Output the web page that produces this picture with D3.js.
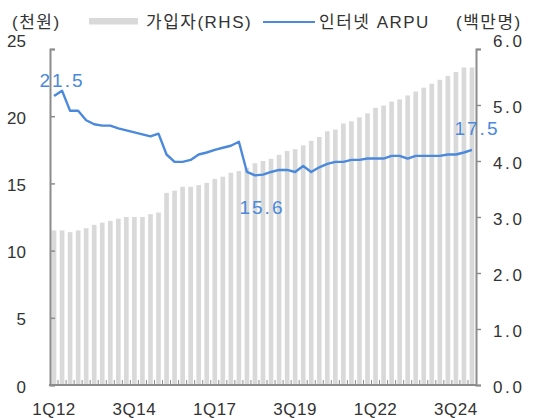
<!DOCTYPE html>
<html><head><meta charset="utf-8">
<script src="https://cdn.jsdelivr.net/npm/d3@7"></script>
<style>
html,body{margin:0;padding:0;background:#fff;}
text{font-family:"Liberation Sans","Noto Sans CJK KR",Arial,sans-serif;}
</style></head>
<body><svg id="c" width="533" height="418"></svg>
<script>
const quarters = ["1Q12","2Q12","3Q12","4Q12","1Q13","2Q13","3Q13","4Q13","1Q14","2Q14","3Q14","4Q14",
"1Q15","2Q15","3Q15","4Q15","1Q16","2Q16","3Q16","4Q16","1Q17","2Q17","3Q17","4Q17",
"1Q18","2Q18","3Q18","4Q18","1Q19","2Q19","3Q19","4Q19","1Q20","2Q20","3Q20","4Q20",
"1Q21","2Q21","3Q21","4Q21","1Q22","2Q22","3Q22","4Q22","1Q23","2Q23","3Q23","4Q23",
"1Q24","2Q24","3Q24","4Q24","1Q25"];
const subscribers = [2.76,2.76,2.73,2.76,2.80,2.86,2.90,2.93,2.97,3.00,3.00,3.00,
3.05,3.08,3.43,3.47,3.54,3.54,3.57,3.61,3.68,3.72,3.79,3.82,
3.88,3.96,4.00,4.04,4.11,4.18,4.21,4.28,4.36,4.43,4.53,4.56,
4.67,4.71,4.78,4.85,4.95,4.99,5.06,5.10,5.17,5.24,5.31,5.38,
5.45,5.52,5.59,5.67,5.67];
const arpu = [21.5,21.9,20.4,20.4,19.7,19.4,19.3,19.3,19.1,18.95,18.8,18.65,
18.5,18.7,17.15,16.6,16.6,16.75,17.15,17.3,17.5,17.65,17.8,18.1,
15.85,15.6,15.65,15.85,16.0,16.0,15.85,16.3,15.85,16.2,16.45,16.6,
16.6,16.75,16.75,16.85,16.85,16.85,17.05,17.05,16.85,17.05,17.05,17.05,
17.05,17.15,17.15,17.3,17.5];
const xTickLabels = ["1Q12","3Q14","1Q17","3Q19","1Q22","3Q24"];
const leftTicks = [0,5,10,15,20,25];
const rightTicks = [0,1,2,3,4,5,6];
const annotations = [{i:0,text:"21.5"},{i:25,text:"15.6"},{i:52,text:"17.5"}];

const svg = d3.select("#c");
const L=50, R=476, T=49, B=385;
const blue="#4a89dc", barCol="#d9d9d9", axisCol="#8c8c8c", txt="#333";

const x = d3.scaleBand().domain(quarters).range([L,R]).paddingInner(0.42).paddingOuter(0.21);
const xb = d3.scaleBand().domain(quarters).range([L,R]);
const yL = d3.scaleLinear().domain([0,25]).range([B,T]);
const yR = d3.scaleLinear().domain([0,6]).range([B,T]);

// bars
svg.append("g").selectAll("rect").data(subscribers).join("rect")
  .attr("x",(d,i)=>x(quarters[i])).attr("width",x.bandwidth())
  .attr("y",d=>yR(d)).attr("height",d=>B-yR(d)).attr("fill",barCol);

// line
const line = d3.line().x((d,i)=>xb(quarters[i])+xb.bandwidth()/2).y(d=>yL(d));
svg.append("path").datum(arpu).attr("d",line).attr("fill","none")
  .attr("stroke",blue).attr("stroke-width",2.4).attr("stroke-linejoin","round");

// left axis
const gl = svg.append("g").attr("transform",`translate(${L},0)`)
  .call(d3.axisLeft(yL).tickValues(leftTicks).tickSize(-5).tickPadding(24).tickFormat(d3.format("d")));
gl.select(".domain").attr("stroke",axisCol).attr("stroke-width",2);
gl.selectAll(".tick line").attr("stroke",axisCol).attr("stroke-width",1.5);
gl.selectAll(".tick text").attr("font-size",17).attr("fill",txt)
  .attr("font-family","Liberation Sans, Arial, sans-serif")
  .attr("dy",d=>d===25?"-0.15em":"0.42em");
// right axis
const gr = svg.append("g").attr("transform",`translate(${R},0)`)
  .call(d3.axisRight(yR).tickValues(rightTicks).tickSize(5).tickPadding(12).tickFormat(d3.format(".1f")));
gr.select(".domain").attr("stroke",axisCol).attr("stroke-width",2);
gr.selectAll(".tick line").attr("stroke",axisCol).attr("stroke-width",1.5);
gr.selectAll(".tick text").attr("font-size",17).attr("fill",txt).attr("letter-spacing","2.6px")
  .attr("font-family","Liberation Sans, Arial, sans-serif")
  .attr("dy",d=>d===6?"-0.15em":"0.42em");

// x axis
const gx = svg.append("g").attr("transform",`translate(0,${B})`)
  .call(d3.axisBottom(xb).tickValues(xTickLabels).tickSize(0).tickPadding(18));
gx.select(".domain").remove();
gx.selectAll(".tick text").attr("font-size",17).attr("fill",txt).attr("letter-spacing","0.5px")
  .attr("font-family","Liberation Sans, Arial, sans-serif");
// minor ticks at band boundaries
svg.append("g").selectAll("line").data(quarters.slice(1)).join("line")
  .attr("x1",d=>xb(d)).attr("x2",d=>xb(d)).attr("y1",B).attr("y2",B-5)
  .attr("stroke",axisCol).attr("stroke-width",1);
svg.append("line").attr("x1",L-1).attr("x2",R+1).attr("y1",B).attr("y2",B)
  .attr("stroke",axisCol).attr("stroke-width",2);

// annotations
const ann = {0:[8,-9],25:[7,39],52:[5,-15]};
svg.append("g").selectAll("text").data(annotations).join("text")
  .attr("x",d=>xb(quarters[d.i])+xb.bandwidth()/2+ann[d.i][0])
  .attr("y",d=>yL(arpu[d.i])+ann[d.i][1])
  .attr("text-anchor","middle").attr("font-size",19).attr("letter-spacing","2px")
  .attr("fill",blue).text(d=>d.text);

// legend
const lg = svg.append("g").attr("font-size",17).attr("fill",txt).attr("letter-spacing","1.5px");
lg.append("text").attr("x",12).attr("y",28).text("(천원)");
lg.append("rect").attr("x",89).attr("y",18).attr("width",49).attr("height",6.5).attr("fill",barCol);
lg.append("text").attr("x",146).attr("y",28).text("가입자(RHS)");
lg.append("line").attr("x1",263).attr("x2",315).attr("y1",22).attr("y2",22).attr("stroke",blue).attr("stroke-width",2);
lg.append("text").attr("x",319).attr("y",28).text("인터넷 ARPU");
lg.append("text").attr("x",456).attr("y",28).text("(백만명)");
</script></body></html>
